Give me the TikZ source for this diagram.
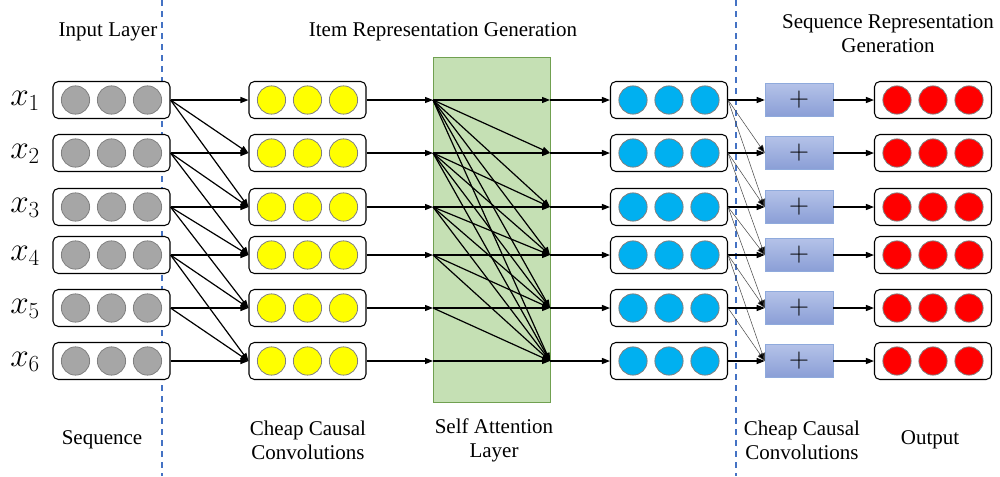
\documentclass[tikz,border=0pt]{standalone}
\usepackage{fontspec}
\setmainfont{Liberation Serif}
\usetikzlibrary{arrows.meta}
\definecolor{cgray}{RGB}{166,166,166}
\definecolor{cyel}{RGB}{255,255,0}
\definecolor{cblue}{RGB}{0,176,240}
\definecolor{cred}{RGB}{255,0,0}
\definecolor{ccirc}{RGB}{128,128,128}
\definecolor{cgreen}{RGB}{197,224,180}
\definecolor{cgreenb}{RGB}{112,160,80}
\definecolor{cdash}{RGB}{68,114,196}
\definecolor{cplustop}{RGB}{180,194,232}
\definecolor{cplusbot}{RGB}{138,158,214}
\definecolor{cplusb}{RGB}{143,170,220}
\begin{document}
\begin{tikzpicture}[x=0.75pt,y=-0.75pt,
  >={Triangle[length=6pt,width=4.5pt]},
  vec/.style={draw=black, line width=0.8pt, rounded corners=4pt, fill=white,
    minimum width=87.75pt, minimum height=27.75pt, inner sep=0pt},
  arr/.style={->, line width=0.9pt},
  thinarr/.style={-{Triangle[length=6pt,width=4.5pt,fill=black]}, line width=0.4pt, draw=black!70},
  lbl/.style={font=\fontsize{15.75}{18}\selectfont, align=center},
  plusbox/.style={draw=cplusb, top color=cplustop, bottom color=cplusbot,
    minimum width=51pt, minimum height=24.75pt, inner sep=0pt,
    font=\fontsize{20}{20}\selectfont},
  sep/.style={draw=cdash, line width=1.1pt, dash pattern=on 4.5pt off 3.75pt},
  circ/.style={draw=ccirc, line width=0.6pt}]
\useasboundingbox (0,0) rectangle (1000,476);

% attention layer background
\node[draw=cgreenb, fill=cgreen, line width=0.7pt, minimum width=87.75pt,
  minimum height=258.75pt, inner sep=0pt] (att) at (491.5,229.5) {};

% separators
\coordinate (d1t) at (162,0);
\coordinate (d1b) at (162,476);
\coordinate (d2t) at (736,0);
\coordinate (d2b) at (736,476);
\draw[sep] (d1t) -- (d1b);
\draw[sep] (d2t) -- (d2b);

% rows
\foreach \i/\y in {1/100,2/153,3/207,4/255,5/308,6/361} {
  \node[anchor=west, font=\fontsize{25}{25}\selectfont, inner sep=0pt] (x\i) at (10,\y+1) {$x_{\i}$};
  \node[vec] (in\i) at (111.5,\y) {};
  \node[vec] (ye\i) at (307.5,\y) {};
  \node[vec] (bl\i) at (669,\y) {};
  \node[vec] (rd\i) at (933,\y) {};
  \node[plusbox] (pl\i) at (799,\y) {$+$};
  \coordinate (gl\i) at (433,\y);
  \coordinate (gr\i) at (550,\y);
  \foreach \c in {-36,0,36} {
    \filldraw[circ, fill=cgray] ([xshift=\c*0.75pt]in\i.center) circle (10.6pt);
    \filldraw[circ, fill=cyel] ([xshift=\c*0.75pt]ye\i.center) circle (10.6pt);
    \filldraw[circ, fill=cblue] ([xshift=\c*0.75pt]bl\i.center) circle (10.6pt);
    \filldraw[circ, fill=cred] ([xshift=\c*0.75pt]rd\i.center) circle (10.6pt);
  }
}

% connections
\foreach \i in {1,...,6} {
  \foreach \d in {0,1,2} {
    \pgfmathtruncatemacro\j{\i+\d}
    \ifnum\j<7
      \draw[arr] (in\i.east) -- (ye\j.west);
    \fi
  }
  \draw[arr] (ye\i.east) -- (gl\i);
  \foreach \j in {\i,...,6} {
    \draw[arr] (gl\i) -- (gr\j);
  }
  \draw[arr] (gr\i) -- (bl\i.west);
  \draw[arr] (bl\i.east) -- (pl\i.west);
  \foreach \d in {1,2} {
    \pgfmathtruncatemacro\j{\i+\d}
    \ifnum\j<7
      \draw[thinarr] (bl\i.east) -- (pl\j.west);
    \fi
  }
  \draw[arr] (pl\i.east) -- (rd\i.west);
}

% labels
\node[lbl] (tin) at (108,32) {Input Layer};
\node[lbl] (titem) at (443,32) {Item Representation Generation};
\node[lbl] (tseq) at (888,34) {Sequence Representation\\Generation};
\node[lbl] (bseq) at (102,440) {Sequence};
\node[lbl] (bcc1) at (308,440) {Cheap Causal\\Convolutions};
\node[lbl] (bsa) at (494,440) {Self Attention\\Layer};
\node[lbl] (bcc2) at (802,440) {Cheap Causal\\Convolutions};
\node[lbl] (bout) at (930,440) {Output};
\end{tikzpicture}
\end{document}
